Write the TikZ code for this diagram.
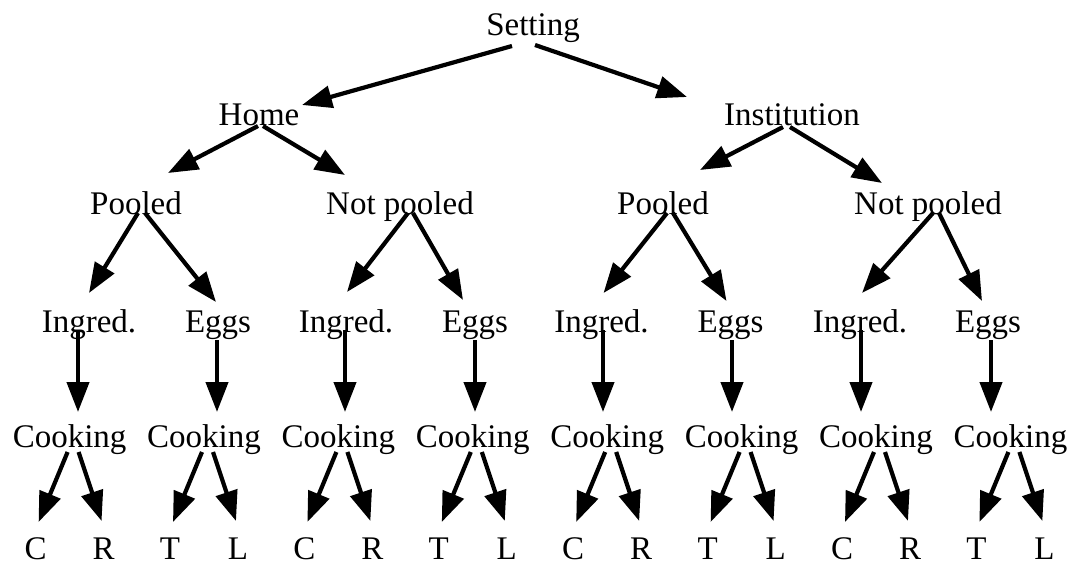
\documentclass[tikz,border=0pt]{standalone}
\usepackage{fontspec}
\setmainfont{Liberation Serif}
\usetikzlibrary{arrows.meta,calc}
\newcommand\lnk[6]{\draw[arr] ($(#1.base)+(#2,#3)$) -- ($(#4.base)+(#5,#6)$);}
\begin{document}
\begin{tikzpicture}[x=1pt,y=-1pt,
  lbl/.style={anchor=base,inner sep=0pt,font=\fontsize{33}{40}\selectfont},
  arr/.style={line width=4.2pt,-{Triangle[length=30pt,width=22pt]}}]
\useasboundingbox (0,0) rectangle (1070,567);
% level 0-2
\node[lbl] (S) at (533,36) {Setting};
\node[lbl] (H) at (259,125) {Home};
\node[lbl] (I) at (792,125) {Institution};
\node[lbl] (P1) at (136,214) {Pooled};
\node[lbl] (N1) at (400,214) {Not pooled};
\node[lbl] (P2) at (663,214) {Pooled};
\node[lbl] (N2) at (928,214) {Not pooled};
% level 3
\foreach \i/\x/\t in {1/89/Ingred., 2/218/Eggs, 3/346/Ingred., 4/475/Eggs,
                     5/601.5/Ingred., 6/730.5/Eggs, 7/860/Ingred., 8/988/Eggs}
  \node[lbl] (G\i) at (\x,332) {\t};
% level 4
\foreach \i/\x in {1/69.6,2/204,3/338.4,4/472.8,5/607.2,6/741.6,7/876,8/1010.4}
  \node[lbl] (K\i) at (\x,447) {Cooking};
% leaves
\foreach \i/\x/\t in {1/35.6/C, 2/103.6/R, 3/170/T, 4/238/L,
                     5/304.4/C, 6/372.4/R, 7/438.8/T, 8/506.8/L,
                     9/573.2/C, 10/641.2/R, 11/707.6/T, 12/775.6/L,
                     13/842/C, 14/910/R, 15/976.4/T, 16/1044.4/L}
  \node[lbl] (L\i) at (\x,559) {\t};
% edges level 0-1
\lnk{S}{-21}{10}{H}{43}{-20}
\lnk{S}{2}{9}{I}{-105}{-28}
% level 1-2
\lnk{H}{-1}{1}{P1}{32}{-41}
\lnk{H}{4}{1}{N1}{-55}{-39}
\lnk{I}{-9}{2}{P2}{37}{-44}
\lnk{I}{-2}{2}{N2}{-46}{-31}
% level 2-3
\lnk{P1}{2}{-1}{G1}{0}{-39}
\lnk{P1}{9}{-1}{G2}{-2}{-30}
\lnk{N1}{8}{-1}{G3}{1}{-40}
\lnk{N1}{13}{-1}{G4}{-12}{-32}
\lnk{P2}{4}{-1}{G5}{2}{-39}
\lnk{P2}{10}{-1}{G6}{-4}{-31}
\lnk{N2}{5}{-1}{G7}{2}{-39}
\lnk{N2}{11}{-1}{G8}{-6}{-31}
% level 3-4 (vertical)
\lnk{G1}{-11}{-2}{K1}{8.4}{-35}
\lnk{G2}{-1}{8}{K2}{13}{-35}
\lnk{G3}{-1}{-2}{K3}{6.6}{-35}
\lnk{G4}{0}{8}{K4}{2.2}{-35}
\lnk{G5}{1.5}{-2}{K5}{-4.2}{-35}
\lnk{G6}{1.5}{8}{K6}{-9.6}{-35}
\lnk{G7}{1}{-2}{K7}{-15}{-35}
\lnk{G8}{3}{8}{K8}{-19.4}{-35}
% level 4-5
\foreach \k [evaluate=\k as \a using int(2*\k-1), evaluate=\k as \b using int(2*\k)] in {1,...,8}{
  \lnk{K\k}{-2}{5}{L\a}{3}{-37}
  \lnk{K\k}{9}{5}{L\b}{-2}{-38}
}
\end{tikzpicture}
\end{document}
